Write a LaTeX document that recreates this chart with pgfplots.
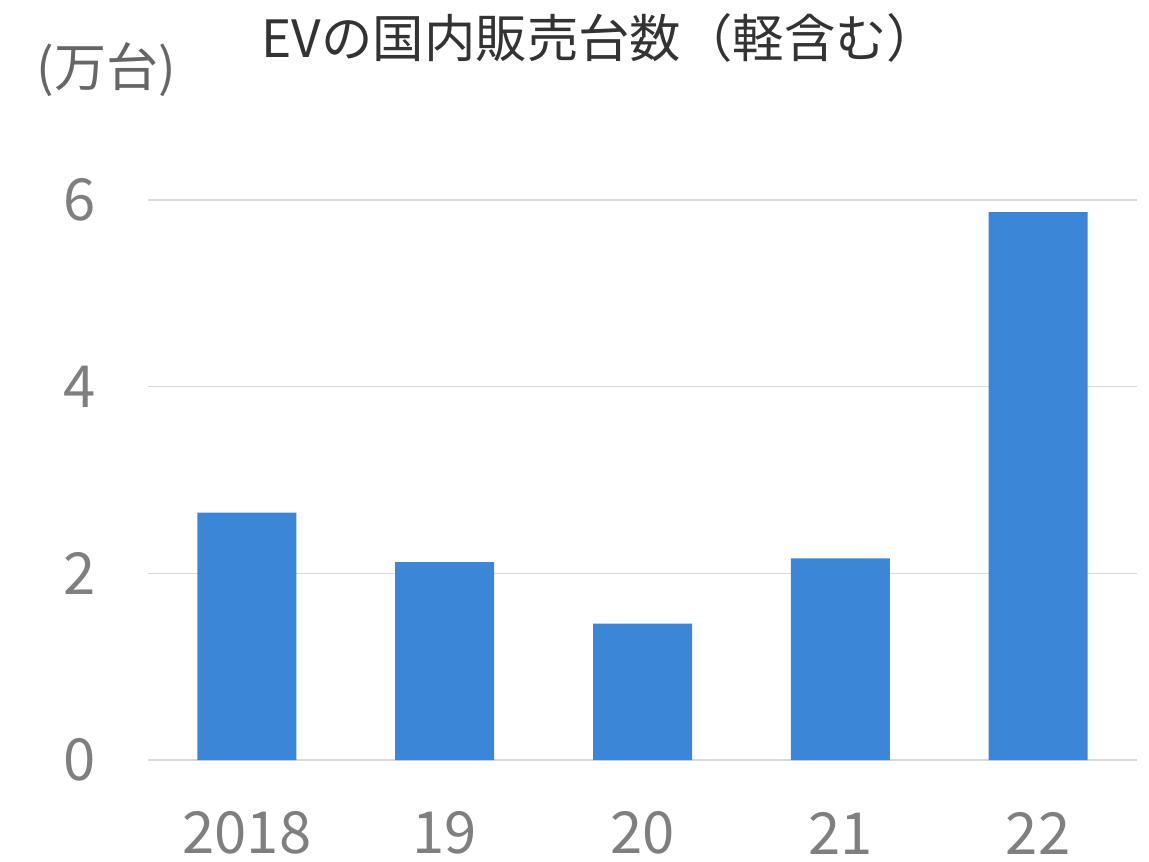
\documentclass[border=0pt]{standalone}
\usepackage{fontspec}
\setmainfont{Noto Sans CJK JP}
\usepackage{pgfplots}
\pgfplotsset{compat=1.18}
\definecolor{barra}{HTML}{3B86D7}
\definecolor{etiq}{HTML}{7F7F7F}
\definecolor{reixa}{HTML}{D9D9D9}
\definecolor{titol}{HTML}{333333}
\definecolor{unitat}{HTML}{666666}

\begin{document}
\begin{tikzpicture}
\useasboundingbox (-74pt,-50.5pt) rectangle (500.5pt,380pt);
\begin{axis}[scale only axis,width=494.5pt,height=280pt,
 xmin=-0.5,xmax=4.5,ymin=0,ymax=6,
 ytick={0,2,4,6},xtick={0,1,2,3,4},
 xticklabels={2018,19,20,21,22},
 axis line style={draw=none},major tick length=0pt,
 ymajorgrids,grid style={reixa,line width=0.8pt},
 tick label style={font=\fontsize{29}{34}\selectfont,text=etiq,inner sep=0pt},
 xticklabel style={anchor=center,yshift=-36.5pt},
 yticklabel style={anchor=east,xshift=-26pt},
 /pgf/number format/assume math mode=true,
 clip=false]
 \addplot[ybar,bar width=49.5pt,fill=barra,draw=none] coordinates {(0,2.65) (1,2.12) (2,1.46) (3,2.16) (4,5.87)};
\end{axis}
\node[text=titol,font=\fontsize{25.7}{30}\selectfont] at (226pt,361pt) {EVの国内販売台数（軽含む）};
\node[text=unitat,font=\fontsize{26}{30}\selectfont] at (-21pt,345pt) {(万台)};
\end{tikzpicture}
\end{document}
